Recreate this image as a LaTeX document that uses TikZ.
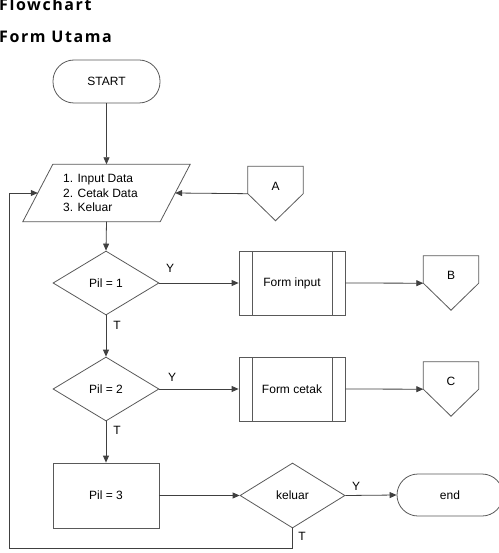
\documentclass[tikz,border=0pt]{standalone}
\usepackage{fontspec}
\setmainfont{Liberation Sans}
\newfontfamily\titlefont[LetterSpace=10]{Open Sans}
\usetikzlibrary{shapes.geometric,arrows.meta,calc}
\tikzset{
  ln/.style={draw=black!75, line width=0.8pt},
  arr/.style={ln, -{Triangle[length=7pt,width=6pt]}},
  outl/.style={draw=black!65, line width=0.8pt},
  shp/.style={outl, inner sep=0pt, font=\fontsize{12}{14.5}\selectfont},
  term/.style={shp, rectangle, rounded corners=21pt, minimum width=107pt, minimum height=43pt},
  iobox/.style={rectangle, inner sep=0pt, minimum width=137pt, minimum height=57pt},
  dec/.style={shp, diamond, aspect=1.66, minimum width=106pt, minimum height=64pt},
  proc/.style={shp, rectangle, minimum width=106pt, minimum height=64pt},
  subr/.style={proc, path picture={\draw[outl]
     ([xshift=13pt]path picture bounding box.north west) -- ([xshift=13pt]path picture bounding box.south west)
     ([xshift=-12.5pt]path picture bounding box.north east) -- ([xshift=-12.5pt]path picture bounding box.south east);}},
  lbl/.style={inner sep=0pt, font=\fontsize{12}{14.5}\selectfont},
  offpage/.style={rectangle, inner sep=0pt, minimum width=55pt, minimum height=27pt},
  ttl/.style={inner sep=0pt, anchor=base west, font=\titlefont\bfseries\fontsize{16}{19}\selectfont}
}
\newcommand\offpg[1]{\draw[outl] (#1.north west) -- (#1.north east) -- (#1.south east) -- ([yshift=-27pt]#1.south) -- (#1.south west) -- cycle;}
\newcommand\parpg[1]{\draw[outl] ([xshift=15pt]#1.north west) -- ([xshift=15pt]#1.north east) -- ([xshift=-15pt]#1.south east) -- ([xshift=-15pt]#1.south west) -- cycle;}
\begin{document}
\begin{tikzpicture}[x=1pt,y=-1pt]
\useasboundingbox (0,0) rectangle (498,553);
% titles
\node[ttl] (t1) at (-1,11) {Flowchart};
\node[ttl] (t2) at (-1,43) {Form Utama};
% nodes
\node[term] (start) at (106.5,81.5) {START};
\node[iobox] (io) at (106.5,193) {};
\parpg{io}
\node[lbl, anchor=west, align=left] (iotext) at (63,193) {1. Input Data\\2. Cetak Data\\3. Keluar};
\node[offpage, label={[lbl, yshift=-6pt]center:A}] (A) at (275.5,180) {};
\offpg{A}
\node[dec] (pil1) at (106,283) {Pil = 1};
\node[subr] (fin) at (292,283) {Form input};
\node[offpage, label={[lbl, yshift=-6pt]center:B}] (B) at (451,269.5) {};
\offpg{B}
\node[dec] (pil2) at (106,389) {Pil = 2};
\node[subr] (fc) at (292,389) {Form cetak};
\node[offpage, label={[lbl, yshift=-6pt]center:C}] (C) at (451,375.5) {};
\offpg{C}
\node[proc, minimum height=65pt] (pil3) at (106,495.5) {Pil = 3};
\node[dec, minimum width=105pt, minimum height=65pt] (kel) at (292.5,495.5) {keluar};
\node[term, minimum width=106pt, minimum height=42pt] (end) at (450,495) {end};
\coordinate (loopc) at (9,548);
% connectors
\draw[arr] (start.south) -- (io.north);
\draw[arr] (A.south west) -- (io.east);
\draw[arr] (io.south) -- (pil1.north);
\draw[arr] (pil1.east) -- (fin.west);
\draw[arr] (fin.east) -- (B.south west);
\draw[arr] (pil1.south) -- (pil2.north);
\draw[arr] (pil2.east) -- (fc.west);
\draw[arr] (fc.east) -- (C.south west);
\draw[arr] (pil2.south) -- (pil3.north);
\draw[arr] (pil3.east) -- (kel.west);
\draw[arr] (kel.east) -- (end.west);
\draw[arr] (kel.south) |- (loopc) |- (io.west);
% branch labels
\node[lbl] (y1) at (170,268) {Y};
\node[lbl] (tt1) at (117,325) {T};
\node[lbl] (y2) at (172,377) {Y};
\node[lbl] (tt2) at (117,430) {T};
\node[lbl] (y3) at (356,486) {Y};
\node[lbl] (tt3) at (302,536) {T};
\end{tikzpicture}
\end{document}
